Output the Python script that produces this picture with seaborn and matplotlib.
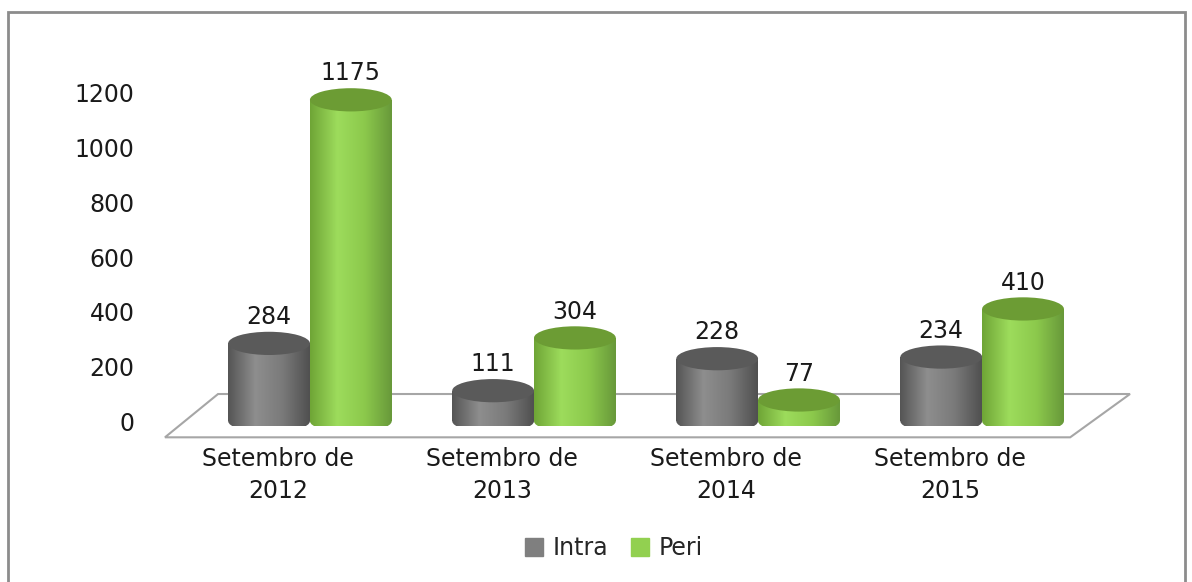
import numpy as np
import pandas as pd
import matplotlib.pyplot as plt
import matplotlib.transforms as mtransforms
from matplotlib.colors import LinearSegmentedColormap
from matplotlib.patches import Ellipse, Rectangle, Polygon
import seaborn as sns

# data
periods = ["Setembro de\n2012", "Setembro de\n2013", "Setembro de\n2014", "Setembro de\n2015"]
intra = [284, 111, 228, 234]
peri = [1175, 304, 77, 410]
series = ["Intra", "Peri"]
colors = {"Intra": "#7f7f7f", "Peri": "#92d050"}
top_colors = {"Intra": "#5a5a5a", "Peri": "#6c9c34"}
shade = {"Intra": ["#555555", "#8e8e8e", "#7a7a7a", "#505050"],
         "Peri": ["#6fa536", "#9ddc5c", "#8cc94c", "#68993a"]}

df = pd.DataFrame({
    "periodo": periods * 2,
    "tipo": ["Intra"] * len(periods) + ["Peri"] * len(periods),
    "valor": intra + peri,
})

sns.set_theme(style="white")
plt.rcParams['font.family'] = ['DejaVu Sans']

fig = plt.figure(figsize=(11.92, 5.82), dpi=100)
ax = fig.add_axes([0.1384, 0.2672, 0.8096, 0.620])

sns.barplot(data=df, x="periodo", y="valor", hue="tipo", hue_order=series,
            palette=colors, width=0.73, saturation=1, linewidth=0,
            ax=ax, legend=False, zorder=3)

# 3D-ish floor
floor = Polygon([[0.0, -0.03], [0.055, 0.09], [1.0, 0.09], [0.938, -0.03]],
                closed=True, transform=ax.transAxes, facecolor="white",
                edgecolor="#a6a6a6", lw=1.5, zorder=1, clip_on=False)
ax.add_patch(floor)

# cylinder look: shading plus ellipse caps on every bar
cap_h = 85
grad = np.linspace(0, 1, 200).reshape(1, -1)
for i, bar in enumerate(list(ax.patches[:2 * len(periods)])):
    name = series[i // len(periods)]
    x = bar.get_x()
    w = bar.get_width()
    h = bar.get_height()
    cmap = LinearSegmentedColormap.from_list(name, shade[name])
    base = Ellipse((x + w / 2, 0), w, cap_h, facecolor="none", edgecolor="none")
    ax.add_patch(base)
    im_base = ax.imshow(grad, cmap=cmap, extent=(x, x + w, -cap_h / 2, 0), aspect="auto",
                        zorder=3.4, interpolation="bilinear")
    im_base.set_clip_path(base)
    im = ax.imshow(grad, cmap=cmap, extent=(x, x + w, 0, h), aspect="auto",
                   zorder=3.5, interpolation="bilinear")
    im.set_clip_path(bar)
    ax.add_patch(Ellipse((x + w / 2, h), w, cap_h, facecolor=top_colors[name],
                         edgecolor="none", zorder=4))
    ax.text(x + w / 2, h + cap_h / 2 + 10, f"{int(h)}", ha="center", va="bottom",
            fontsize=17, color="#1a1a1a", zorder=5)

ax.set_xlim(-0.647, 3.66)
ax.set_ylim(-20, 1300)
ax.set_yticks(range(0, 1201, 200))
ax.set_xlabel("")
ax.set_ylabel("")
for s in ax.spines.values():
    s.set_visible(False)

ax.tick_params(axis="both", length=0, labelsize=17, labelcolor="#1a1a1a")
ax.tick_params(axis="y", pad=22)
ax.tick_params(axis="x", pad=15)
shift = mtransforms.ScaledTranslation(-0.32, 0, fig.dpi_scale_trans)
for lbl in ax.get_xticklabels():
    lbl.set_transform(lbl.get_transform() + shift)
    lbl.set_linespacing(1.4)

handles = [Rectangle((0, 0), 1, 1, color=colors[s]) for s in series]
fig.legend(handles, series, loc="center", bbox_to_anchor=(0.515, 0.058), ncol=2,
           frameon=False, fontsize=17, handlelength=0.75, handleheight=0.75,
           handletextpad=0.4, columnspacing=1.0)

# outer frame
fig.patches.append(Rectangle((0.0067, -0.1), 0.9873, 1.079, transform=fig.transFigure,
                             fill=False, edgecolor="#8c8c8c", lw=2))

fig.savefig("out.png", dpi=100)
